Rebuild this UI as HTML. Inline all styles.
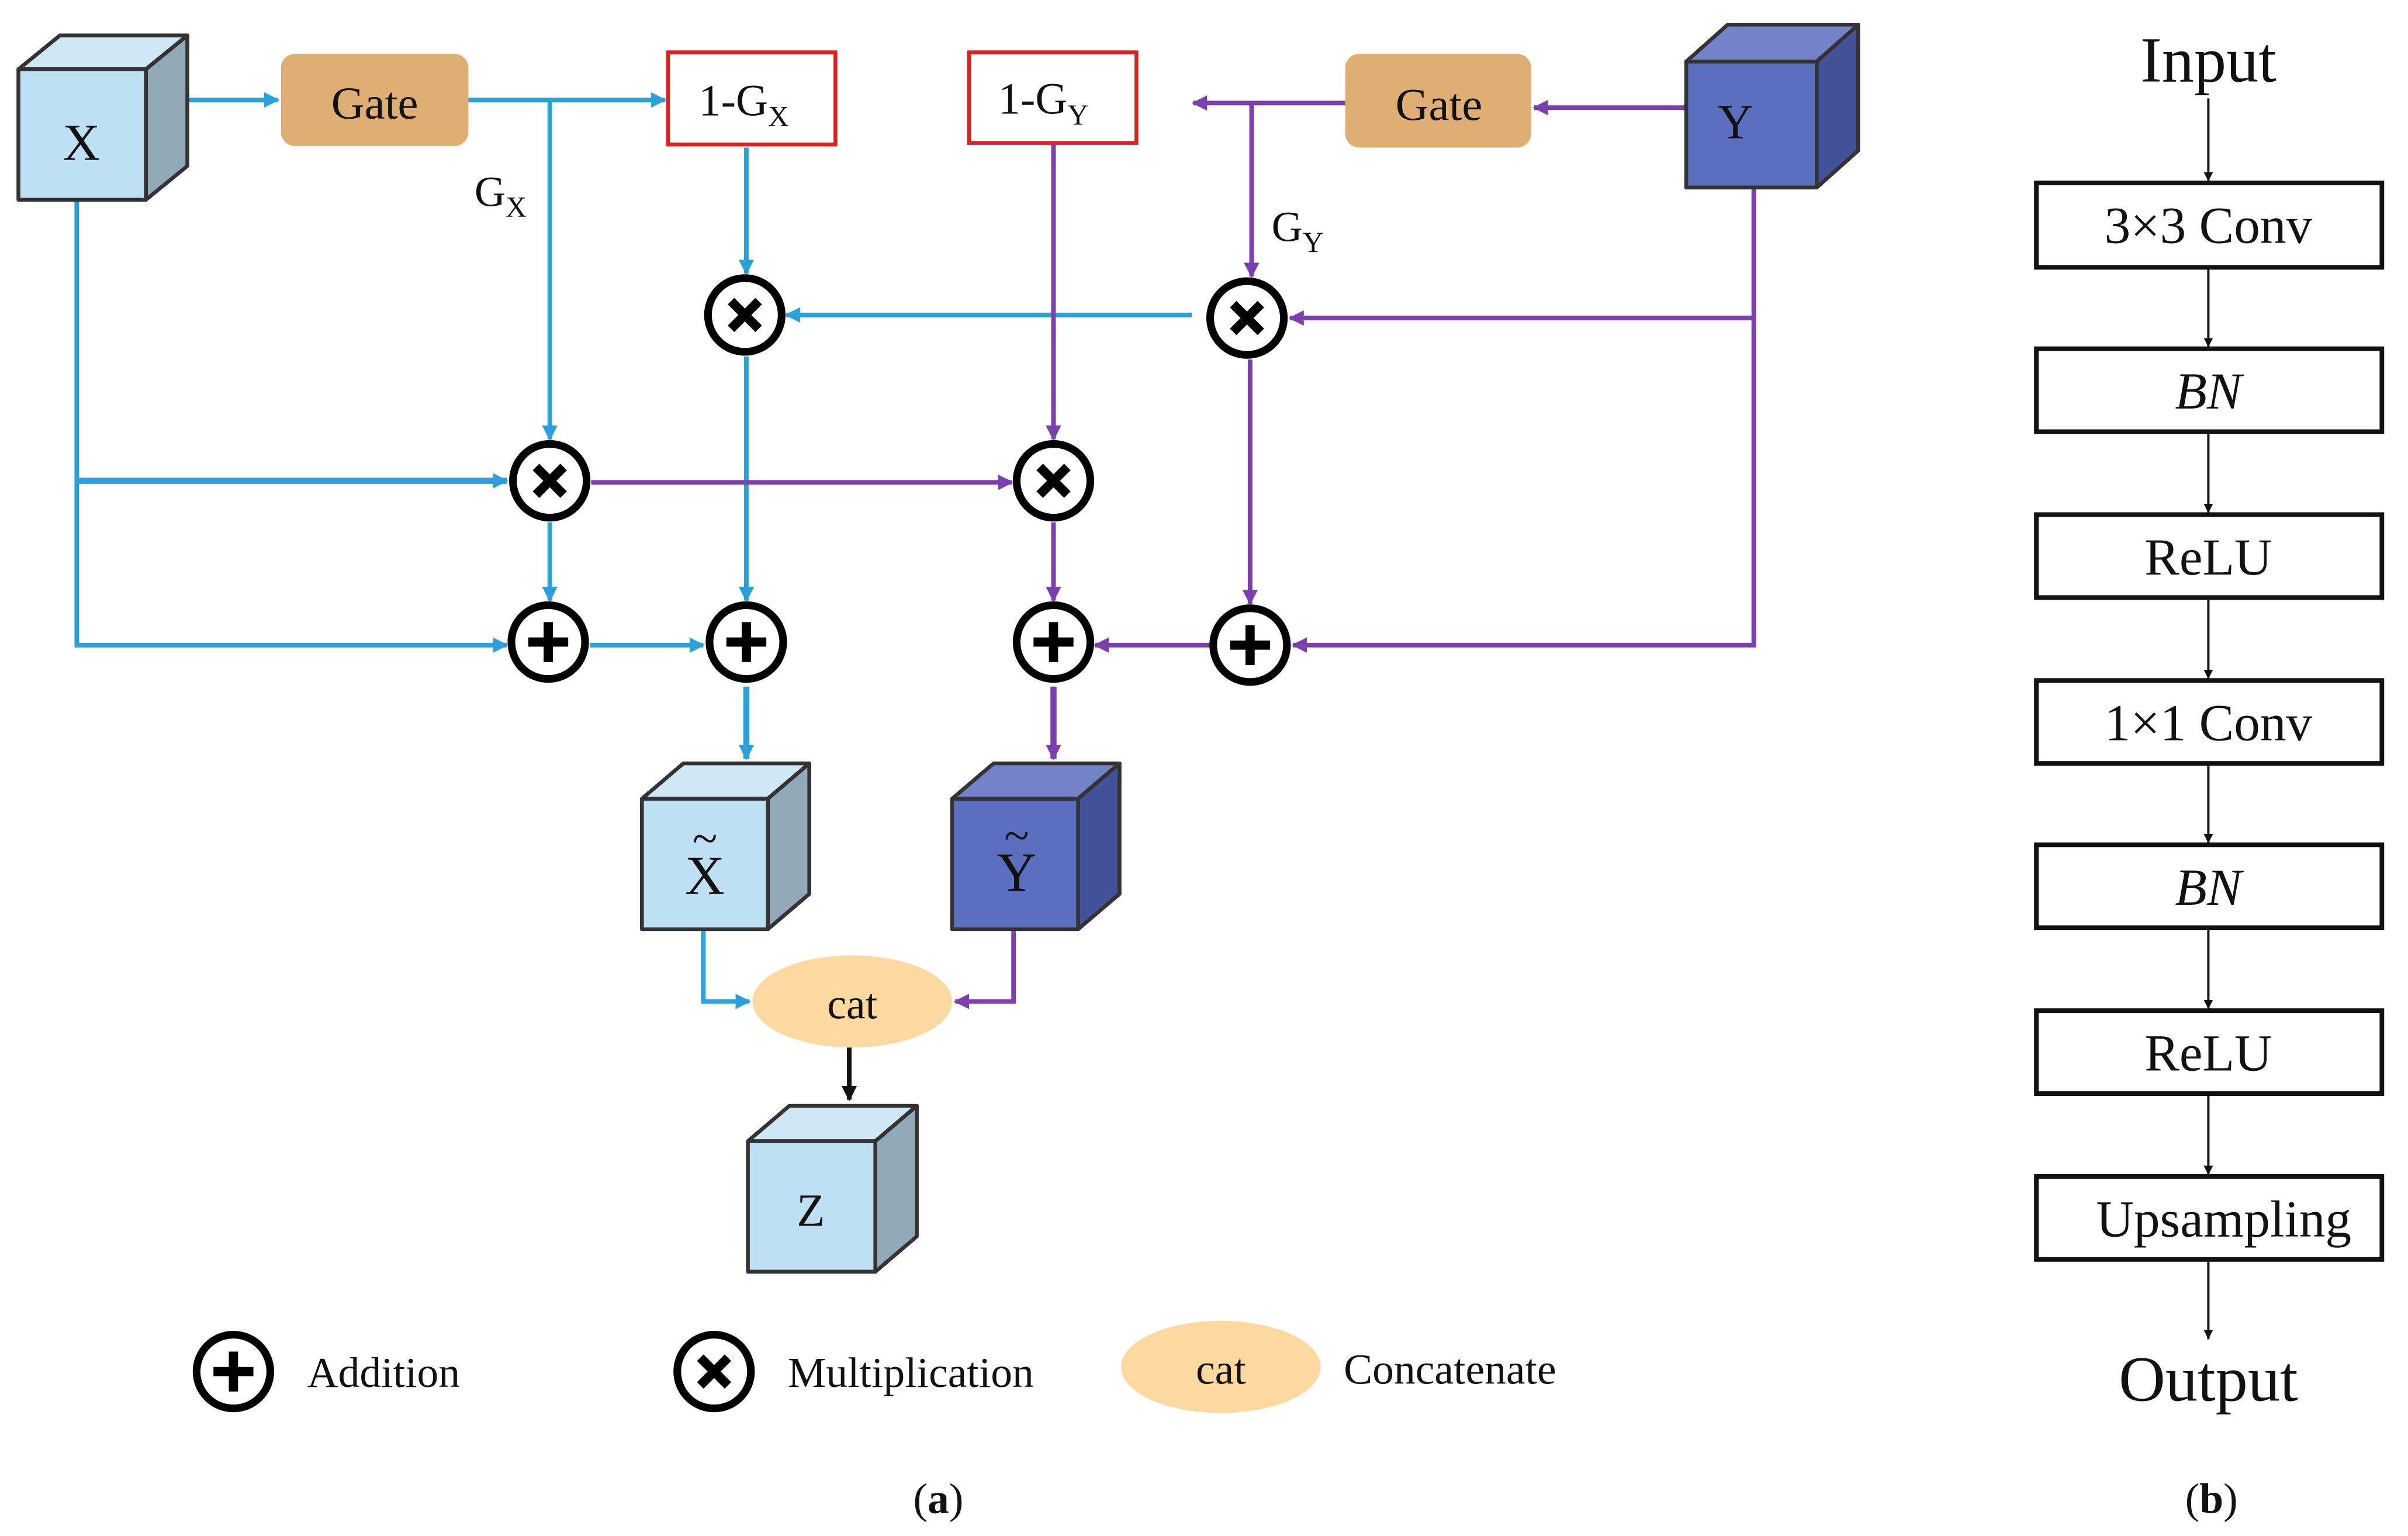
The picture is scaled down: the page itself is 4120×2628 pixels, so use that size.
<!DOCTYPE html>
<html><head><meta charset="utf-8"><style>
html,body{margin:0;padding:0;background:#fff;}
svg{display:block;}
text{font-family:"Liberation Serif",serif;fill:#111;}
</style></head><body>
<svg width="4120" height="2628" viewBox="0 0 1568 1000" xmlns="http://www.w3.org/2000/svg">
<defs>
<marker id="ab" markerWidth="10" markerHeight="10" refX="9" refY="5" orient="auto" markerUnits="userSpaceOnUse"><path d="M0,0 L10,5 L0,10 z" fill="#2aa0dc"/></marker>
<marker id="ap" markerWidth="10" markerHeight="10" refX="9" refY="5" orient="auto" markerUnits="userSpaceOnUse"><path d="M0,0 L10,5 L0,10 z" fill="#7b3fb0"/></marker>
<marker id="ak" markerWidth="10" markerHeight="10" refX="9" refY="5" orient="auto" markerUnits="userSpaceOnUse"><path d="M0,0 L10,5 L0,10 z" fill="#111"/></marker>
<marker id="ak2" markerWidth="6" markerHeight="6" refX="6" refY="3" orient="auto" markerUnits="userSpaceOnUse"><path d="M0,0 L6,3 L0,6 z" fill="#111"/></marker>
<g id="mul"><circle r="24" fill="#fff" stroke="#000" stroke-width="5"/><path d="M-9,-9 L9,9 M9,-9 L-9,9" stroke="#000" stroke-width="6"/></g>
<g id="add"><circle r="24" fill="#fff" stroke="#000" stroke-width="5"/><path d="M0,-13 V13 M-13,0 H13" stroke="#000" stroke-width="6"/></g>
</defs>

<!-- Blue lines -->
<g stroke="#2aa0dc" stroke-width="3" fill="none">
<path d="M122,65 H181" marker-end="url(#ab)"/>
<path d="M305,65 H433" marker-end="url(#ab)"/>
<path d="M358,65 V286" marker-end="url(#ab)"/>
<path d="M486,96 V178" marker-end="url(#ab)"/>
<path d="M776,205 H512" marker-end="url(#ab)"/>
<path d="M486,232 V391" marker-end="url(#ab)"/>
<path d="M50,130 V420 H330" marker-end="url(#ab)"/>
<path d="M50,313 H330" marker-end="url(#ab)" stroke-width="4"/>
<path d="M358,340 V391" marker-end="url(#ab)"/>
<path d="M384,420 H458" marker-end="url(#ab)"/>
<path d="M486,447 V494" marker-end="url(#ab)" stroke-width="4"/>
<path d="M458,606 V652 H488" marker-end="url(#ab)"/>
</g>
<!-- Purple lines -->
<g stroke="#7b3fb0" stroke-width="3" fill="none">
<path d="M1098,70 H999" marker-end="url(#ap)"/>
<path d="M876,67 H777" marker-end="url(#ap)"/>
<path d="M815,67 V180" marker-end="url(#ap)"/>
<path d="M1142,122 V420 H842" marker-end="url(#ap)"/>
<path d="M1142,207 H840" marker-end="url(#ap)"/>
<path d="M686,93 V286" marker-end="url(#ap)"/>
<path d="M385,314 H659" marker-end="url(#ap)"/>
<path d="M686,340 V391" marker-end="url(#ap)"/>
<path d="M814,234 V393" marker-end="url(#ap)"/>
<path d="M788,420 H713" marker-end="url(#ap)"/>
<path d="M686,447 V494" marker-end="url(#ap)" stroke-width="4"/>
<path d="M660,606 V652 H622" marker-end="url(#ap)"/>
</g>
<path d="M553,682 V716" stroke="#111" stroke-width="3" marker-end="url(#ak)"/>

<!-- Cubes -->
<g stroke="#333" stroke-width="2.5" stroke-linejoin="round">
<path d="M12,45 L39,23 L122,23 L95,45 Z" fill="#cfe8f6"/>
<path d="M95,45 L122,23 L122,108 L95,130 Z" fill="#92a9b8"/>
<rect x="12" y="45" width="83" height="85" fill="#bde0f3"/>
<path d="M1098,40 L1125,16 L1210,16 L1183,40 Z" fill="#7383c8"/>
<path d="M1183,40 L1210,16 L1210,98 L1183,122 Z" fill="#44529a"/>
<rect x="1098" y="40" width="85" height="82" fill="#5b6fbf"/>
<path d="M418,520 L445,497 L527,497 L500,520 Z" fill="#cfe8f6"/>
<path d="M500,520 L527,497 L527,582 L500,605 Z" fill="#92a9b8"/>
<rect x="418" y="520" width="82" height="85" fill="#bde0f3"/>
<path d="M620,520 L647,497 L729,497 L702,520 Z" fill="#7383c8"/>
<path d="M702,520 L729,497 L729,582 L702,605 Z" fill="#44529a"/>
<rect x="620" y="520" width="82" height="85" fill="#5b6fbf"/>
<path d="M487,743 L514,720 L597,720 L570,743 Z" fill="#cfe8f6"/>
<path d="M570,743 L597,720 L597,805 L570,828 Z" fill="#92a9b8"/>
<rect x="487" y="743" width="83" height="85" fill="#bde0f3"/>
</g>
<text x="53" y="104" font-size="34" text-anchor="middle">X</text>
<text x="1130" y="90" font-size="32" text-anchor="middle">Y</text>
<text x="459" y="582" font-size="36" text-anchor="middle">X</text>
<text x="459" y="556" font-size="30" text-anchor="middle">~</text>
<text x="662" y="580" font-size="36" text-anchor="middle">Y</text>
<text x="662" y="554" font-size="30" text-anchor="middle">~</text>
<text x="528" y="798" font-size="30" text-anchor="middle">Z</text>

<!-- Gates -->
<rect x="183" y="35" width="122" height="60" rx="9" fill="#dfae72"/>
<text x="244" y="77" font-size="30" text-anchor="middle">Gate</text>
<rect x="876" y="35" width="121" height="61" rx="9" fill="#dfae72"/>
<text x="937" y="78" font-size="30" text-anchor="middle">Gate</text>
<rect x="435" y="34" width="109" height="60" fill="#fff" stroke="#e02020" stroke-width="2.5"/>
<text x="455" y="75" font-size="29">1-G<tspan font-size="19" dy="7">X</tspan></text>
<rect x="631" y="34" width="109" height="59" fill="#fff" stroke="#e02020" stroke-width="2.5"/>
<text x="650" y="74" font-size="29">1-G<tspan font-size="19" dy="7">Y</tspan></text>
<text x="309" y="134" font-size="28">G<tspan font-size="19" dy="7">X</tspan></text>
<text x="828" y="157" font-size="28">G<tspan font-size="19" dy="7">Y</tspan></text>

<use href="#mul" x="485" y="205"/>
<use href="#mul" x="812" y="207"/>
<use href="#mul" x="358" y="313"/>
<use href="#mul" x="686" y="313"/>
<use href="#add" x="357" y="418"/>
<use href="#add" x="486" y="418"/>
<use href="#add" x="686" y="418"/>
<use href="#add" x="814" y="420"/>

<ellipse cx="555" cy="652" rx="65" ry="30" fill="#fdd9a0"/>
<text x="555" y="663" font-size="28" text-anchor="middle">cat</text>

<!-- Legend -->
<use href="#add" x="152" y="893"/>
<text x="200" y="903" font-size="28">Addition</text>
<use href="#mul" x="465" y="893"/>
<text x="513" y="903" font-size="28">Multiplication</text>
<ellipse cx="795" cy="890" rx="65" ry="30" fill="#fdd9a0"/>
<text x="795" y="901" font-size="28" text-anchor="middle">cat</text>
<text x="875" y="901" font-size="28">Concatenate</text>
<text x="611" y="985" font-size="28" text-anchor="middle">(<tspan font-weight="bold">a</tspan>)</text>
<text x="1440" y="985" font-size="28" text-anchor="middle">(<tspan font-weight="bold">b</tspan>)</text>

<!-- Right column -->
<text x="1438" y="53" font-size="42" text-anchor="middle">Input</text>
<text x="1438" y="912" font-size="42" text-anchor="middle">Output</text>
<g stroke="#111" stroke-width="1.5" fill="none">
<path d="M1438,64 V118" marker-end="url(#ak2)"/>
<path d="M1438,174 V226" marker-end="url(#ak2)"/>
<path d="M1438,281 V334" marker-end="url(#ak2)"/>
<path d="M1438,389 V442" marker-end="url(#ak2)"/>
<path d="M1438,497 V549" marker-end="url(#ak2)"/>
<path d="M1438,604 V657" marker-end="url(#ak2)"/>
<path d="M1438,712 V765" marker-end="url(#ak2)"/>
<path d="M1438,820 V872" marker-end="url(#ak2)"/>
</g>
<g fill="#fff" stroke="#111" stroke-width="3">
<rect x="1326" y="119" width="225" height="55"/>
<rect x="1326" y="227" width="225" height="54"/>
<rect x="1326" y="335" width="225" height="54"/>
<rect x="1326" y="443" width="225" height="54"/>
<rect x="1326" y="550" width="225" height="54"/>
<rect x="1326" y="658" width="225" height="54"/>
<rect x="1326" y="766" width="225" height="54"/>
</g>
<g font-size="34" text-anchor="middle">
<text x="1438" y="158">3×3 Conv</text>
<text x="1438" y="266" font-style="italic">BN</text>
<text x="1438" y="374">ReLU</text>
<text x="1438" y="482">1×1 Conv</text>
<text x="1438" y="589" font-style="italic">BN</text>
<text x="1438" y="697">ReLU</text>
<text x="1448" y="805">Upsampling</text>
</g>
</svg>
</body></html>
